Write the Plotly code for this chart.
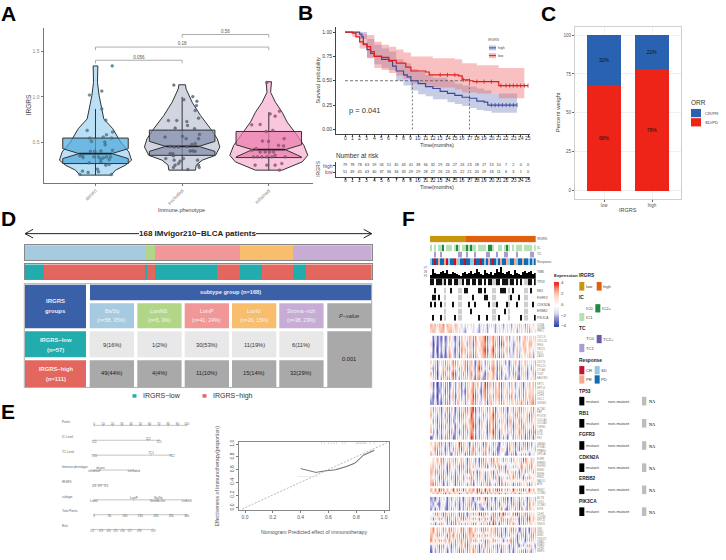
import plotly.graph_objects as go

W, H = 726, 560
SANS = "Liberation Sans"
NARROW = "Liberation Sans"

# ---------- A: violin / box data ----------
PHENO = ["desert", "excluded", "inflamed"]
V_Y = [
    [1.342, 1.269, 1.159, 1.013, .903, .756, .647, .5, .39, .299, .244, .189, .134],
    [1.134, 1.086, .94, .793, .647, .537, .445, .353, .299, .244, .189],
    [1.167, 1.05, .94, .83, .72, .573, .463, .353, .28, .189],
]
V_HW = [
    [.027, .023, .023, .042, .062, .096, .2, .289, .385, .416, .347, .231, .181],
    [.038, .046, .116, .212, .328, .405, .435, .385, .231, .162, .154],
    [.031, .021, .077, .154, .212, .328, .405, .45, .385, .154],
]
Q1 = [.262, .353, .328]
MED = [.372, .452, .416]
Q3 = [.544, .632, .617]
N_LO = [.317, .397, .335]
N_HI = [.427, .507, .47]
W_LO = [.134, .189, .189]
W_HI = [.866, 1.0, .83]
V_FILL = ["#BBDFF4", "#D0D5E0", "#F9C6DE"]
B_FILL = ["rgba(80,170,222,.72)", "rgba(130,140,170,.72)", "rgba(236,125,175,.72)"]
P_COL = ["#3F86AE", "#5D6788", "#B4517F"]
PX = [
    [.193, -.069, .073, .073, .119, -.096, .197, .127, .089, -.066, -.046, .185, .108, .112, -.058, -.008, .062, .197,
     -.181, -.15, -.143, .035, .058, .089, .127, .173, .158, .062, .119, .158, -.073, .023, .035, -.15, -.085, -.181, .185, -.019],
    [-.096, .123, .019, .17, .166, .15, .189, -.158, -.062, .054, .062, -.081, .143, -.197, .004, .046, .2, .189, .15, .112,
     .054, -.139, -.092, -.042, -.139, -.108, -.1, -.189, -.092, -.023, -.042, -.081, -.1, .177, .189, .197, .066, .092, .123, .15, .015],
    [-.023, .015, .123, .073, -.197, -.1, -.031, .046, -.073, -.004, .177, .17, .112, -.197, -.146, -.1, -.042, .008, .054,
     -.177, -.131, -.081, -.023, .035, .073, .189, -.158, -.023, .073, .15, .123],
]
PY = [
    [1.342, 1.02, 1.064, .866, .742, .628, .61, .58, .555, .544, .507, .544, .5, .47, .397, .397, .401, .408,
     .346, .353, .328, .335, .31, .324, .335, .335, .306, .28, .244, .251, .269, .2, .17, .178, .163, .141, .141, .335],
    [1.13, 1.002, .969, .951, .903, .848, .764, .738, .738, .727, .683, .654, .647, .555, .562, .537, .584, .537, .482, .471,
     .452, .452, .445, .445, .372, .372, .346, .317, .299, .288, .262, .244, .218, .299, .244, .218, .196, .401, .401, .397, .317],
    [1.159, .811, .841, .786, .69, .694, .617, .628, .511, .507, .537, .456, .463, .408, .427, .39, .39, .39, .39,
     .335, .335, .335, .335, .335, .353, .335, .244, .244, .244, .262, .189],
]
BRACKETS = [(0, 1, 1.405, "0.056"), (0, 2, 1.551, "0.18"), (1, 2, 1.69, "0.56")]

# ---------- B: survival ----------
HIGH_T = [0, 2, 2.3, 2.5, 3, 3.5, 4, 5, 6, 6.5, 7, 8, 8.5, 9, 10, 11, 12, 13, 14, 15, 16, 17, 18, 19, 19.5, 23.5]
HIGH_S = [1, .98, .95, .88, .82, .78, .75, .72, .70, .65, .60, .56, .54, .50, .47, .44, .42, .39, .37, .35, .33, .32, .29, .28, .25, .25]
LOW_T = [0, 1, 1.5, 2, 2.5, 3, 3.5, 4, 5, 6, 7, 8.3, 9, 11, 11.5, 15.5, 16, 17, 17.5, 21, 25]
LOW_S = [1, .99, .95, .90, .87, .85, .80, .75, .74, .71, .68, .64, .60, .59, .56, .55, .51, .50, .49, .45, .45]
BAND_HT = [0, 2, 3, 4, 5, 6, 7, 8, 9, 10, 11, 12, 14, 15, 16, 17, 18, 19, 20, 23.5]
BAND_HU = [1, 1, .93, .87, .83, .80, .72, .68, .62, .59, .56, .53, .50, .47, .45, .44, .42, .40, .37, .37]
BAND_HL = [1, .93, .74, .67, .63, .61, .50, .45, .40, .36, .34, .31, .28, .26, .24, .22, .20, .19, .17, .17]
BAND_LT = [0, 1, 2, 3, 4, 5, 6, 7, 8, 9, 11, 12, 15, 16, 18, 21, 24.5]
BAND_LU = [1, 1, .98, .97, .90, .87, .85, .82, .79, .75, .75, .73, .72, .68, .66, .63, .63]
BAND_LL = [1, .95, .83, .73, .63, .61, .58, .55, .52, .47, .45, .43, .41, .38, .37, .32, .31]
CENS_HT = [20, 20.5, 21, 21.5, 22, 22.5, 23, 23.5]
CENS_HS = [.25] * 8
CENS_LT = [13, 14, 15, 16.2, 17, 18, 19, 20, 21.3, 22, 22.5, 23, 23.5, 24, 24.5, 25]
CENS_LS = [.56, .56, .56, .51, .50, .49, .49, .49, .45, .45, .45, .45, .45, .45, .45, .45]
MED_T = [9.2, 17]
RISK_HIGH = [79, 78, 78, 63, 59, 56, 51, 45, 43, 41, 38, 34, 32, 29, 26, 27, 26, 23, 18, 17, 13, 10, 7, 2, 0, 0]
RISK_LOW = [51, 49, 45, 43, 40, 37, 36, 34, 33, 29, 29, 28, 27, 26, 23, 25, 22, 21, 20, 19, 18, 11, 6, 3, 1, 0]

# ---------- C: stacked percent ----------
C_GROUPS = ["low", "high"]
C_SD = [68, 78]
C_CR = [32, 22]

# ---------- D: subtype table ----------
SUBTYPES = ["Ba/Sq", "LumNS", "LumP", "LumU", "Stroma\u2212rich"]
SUB_N = ["(n=58, 35%)", "(n=5, 3%)", "(n=41, 24%)", "(n=26, 15%)", "(n=38, 23%)"]
SUB_COUNT = [58, 5, 41, 26, 38]
SUB_COL = ["#A6CBE0", "#B2D687", "#F19797", "#F8BD6D", "#C7ACD6"]
LOW_CELLS = ["9(16%)", "1(2%)", "30(53%)", "11(19%)", "6(11%)"]
HIGH_CELLS = ["49(44%)", "4(4%)", "11(10%)", "15(14%)", "32(29%)"]
LOW_COUNT = [9, 1, 30, 11, 6]
HIGH_COUNT = [49, 4, 11, 15, 32]
TEAL, CORAL = "#22ACAE", "#E3675F"

# ---------- E: nomogram ----------
NOMO_NAMES = ["Points", "IC Level", "TC Level", "Immune.phenotype", "IRGRS", "subtype", "Total Points", "Risk"]
NOMO_POS = [
    [0, 10, 20, 30, 40, 50, 60, 70, 80, 90, 100],
    [0, 58.6, 70.5], [0, 61.5, 84], [0, 7, 43], [0, 6.5, 13],
    [0, 43, 69.5, 68.5, 100],
    [0, 16.7, 33.3, 50, 66.7, 83.3, 100],
    [-1.8, 7.6, 15.8, 23.4, 30.9, 38.8, 48.9, 64],
]
NOMO_LAB = [
    ["0", "10", "20", "30", "40", "50", "60", "70", "80", "90", "100"],
    ["IC0", "IC2", "IC1"], ["TC0", "TC1", "TC2"], ["inflamed", "desert", "excluded"], ["0.1", "0.7", "1.3"],
    ["LumU", "LumP", "Ba/Sq", "Stroma-rich", "LumNS"],
    ["0", "50", "100", "150", "200", "250", "300"],
    ["0.1", "0.3", "0.4", "0.5", "0.6", "0.7", "0.8", "0.9"],
]
NOMO_SIDE = [
    "t" * 11, "btb", "btb", "btb", "bbb", "bttbb", "b" * 7, "b" * 8,
]
CAL_X = [.40, .45, .51, .58, .65, .72, .79, .85, .93]
CAL_Y = [.615, .585, .555, .58, .595, .64, .70, .82, .90]
CAL2_X = [.65, .75, .80, .85, .90, .93]
CAL2_Y = [.60, .66, .71, .83, .88, .90]
RUG_X = [.55, .57, .6, .62, .64, .66, .7, .72, .8, .81, .82, .83, .84, .85, .86, .87, .9, .93]

# ---------- F: oncoprint-style tracks and expression blocks ----------
IRGRS_TRACK = "0000000000" "00000000" "11" "1111111111" "1111111111" "1111111111" "111"
IC_TRACK = "1010112011" "1012101121" "2110111102" "2100110121" "0101110111" "101"
TC_TRACK = "0010010000" "0000110010" "0010000011" "0001000110" "0001000000" "110"
RESP_TRACK = "2303133102" "3301233033" "2203303231" "3032313312" "3312331332" "323"
TMB = [14, 35, 22, 17, 19, 24, 28, 21, 30, 19, 17, 26, 20, 16, 13, 10, 22, 26, 16, 20, 27, 19, 22, 36, 24, 17, 15,
       31, 22, 18, 25, 14, 20, 36, 24, 43, 20, 16, 23, 27, 18, 15, 30, 22, 17, 13, 23, 27, 21, 25, 28, 17, 20]
GENE_NAMES = ["RB1", "FGFR3", "CDKN2A", "ERBB2", "PIK3CA"]
TP53_TRACK = "1101112101" "1011221011" "0110110101" "1221101112" "1101010221" "101"
GENE_TRACKS = [
    "0010000200" "1000220110" "0000110100" "0220011102" "0100000220" "100",
    "0110100200" "0000220000" "0100000110" "0220000002" "1000100220" "000",
    "1010010200" "0100220001" "0010000001" "0221000012" "0001000220" "010",
    "0000000200" "0000220000" "1000000000" "0220000102" "0000000220" "000",
    "0100010200" "0010220000" "0000100010" "0220100002" "0000010220" "001",
]
BLOCKS = [
    ["6563657465" "5465434354" "5344253425" "3524352435" "2453635263" "454",
     "5654566456" "6355343244" "4343243524" "4425343534" "3542534362" "543"],
    ["4151314136" "4315264536" "5274556815" "5736173562" "4346245635" "536",
     "5041324235" "3425165426" "5165466725" "4726182453" "5235346546" "645",
     "4140425146" "4316275635" "5264557814" "6835263562" "4246335645" "435",
     "3151313137" "5325164526" "6173456725" "5726172453" "3346254536" "524"],
    ["5361536263" "5726453725" "6415734263" "5642635241" "5364254635" "352",
     "3271446372" "4635264716" "5326824352" "6751724532" "6253163524" "263",
     "6260537253" "6815362625" "7425643165" "4732615342" "4273263615" "461",
     "4361426372" "5724263635" "6316732264" "5641724233" "5362153524" "352"],
    ["5140326271" "3524615263" "5736425816" "5264716352" "6425361536" "462",
     "4241235172" "4625523164" "6725316725" "4365625463" "5534262645" "553",
     "3140426261" "5614624265" "5816425726" "5265715362" "7425252646" "562",
     "2251315272" "4526535254" "6725334615" "6354626453" "5536373625" "672"],
    ["5263615372" "6415263725" "7815263526" "4715362514" "5263726354" "625",
     "6352524261" "5326172634" "8624352635" "5826453625" "4372635461" "736",
     "4261625371" "6235263546" "7725163426" "5725263516" "6254725362" "645",
     "5352716252" "5416352735" "6815264517" "4716354625" "5163627354" "526",
     "6241525361" "7325162625" "7624253416" "5825164533" "6254736261" "728",
     "1352615272" "5126352635" "8715263525" "3726152514" "4263625172" "516"],
    ["5463725251" "6354826351" "4626351753" "5263143526" "3615252716" "243",
     "4572634162" "5263716462" "5735263642" "6351255417" "4526173625" "352",
     "6361725253" "1462635171" "6625352743" "5172344215" "2713526251" "434"],
    ["4546472536" "3625463516" "3524172645" "2746352635" "2645361754" "634",
     "5635263417" "4536172526" "4635263714" "3625726143" "5263475362" "745",
     "6527362516" "3425263617" "5241735264" "6152635274" "3625164263" "526",
     "5435172635" "2617352462" "7352645163" "5274163526" "4736251627" "354",
     "6726351425" "4516263525" "6143526372" "3526175263" "5162735461" "643"],
    ["6474827464" "3847261646" "5748164837" "4628174625" "4836271648" "364",
     "4637461847" "5463826474" "6437482615" "6473825164" "6373826364" "546"],
    ["2315253415" "2536241536" "3152743825" "2415362714" "1635263516" "352",
     "3252145316" "3425152637" "2415236416" "3526153625" "2736152427" "463",
     "2416254215" "2635142526" "3716321625" "1625374216" "3526175326" "534"],
    ["4527361736" "2635172415" "5263817264" "3726158263" "4718263726" "354",
     "5163724617" "3526471736" "3725164725" "1736472625" "6263172518" "463",
     "3615273425" "1724625263" "6174526371" "5824163526" "4735162635" "545"],
    ["5746352647" "2635472537" "6463527264" "6372526153" "7264136241" "637",
     "6537263516" "5746261736" "5736264725" "5362715262" "5351627153" "726",
     "7463725647" "3526373625" "6273526173" "4726351526" "7261534162" "635",
     "2536172435" "1625364716" "3625174263" "5261726351" "6253162527" "341",
     "1425263514" "2536172526" "4736152462" "6352416352" "4153627163" "253"],
]
BLOCK_PX = [(322.7, 332.3), (335, 357.7), (359.7, 380), (381.7, 405), (406.7, 440), (442, 456),
            (457.7, 486.7), (488.7, 495), (497.3, 511.3), (513, 526), (528, 554)]
BLOCK_GENES = [
    ["CD8A", "GZMA", "PRF1"],
    ["CXCL9", "CXCL10", "IFNG", "TBX21", "IDO1", "LAG3"],
    ["CD274", "PDCD1", "CTLA4", "TIGIT", "HAVCR2"],
    ["KRT5", "KRT14", "CD44", "CDH3", "DSC2", "GSDMC"],
    ["ACTA2", "FAP", "POSTN", "COL1A1", "COL3A1", "TGFB1", "LUM", "DCN", "FN1"],
    ["GATA3", "FOXA1", "PPARG", "UPK1A"],
    ["EGFR", "ERBB3", "FGFR3", "MSH2", "MSH6", "PMS2", "RAD51", "ATM"],
    ["MKI67", "CCNB1"],
    ["ACTB", "CDK1", "CCNE1", "E2F3"],
    ["CDH1", "CLDN4", "KRT20", "SNX31"],
    ["VIM", "ZEB1", "ZEB2", "TWIST1", "SNAI1", "SNAI2", "CDH2", "MMP2"],
]

EXPR_SCALE = [[0, "#2F4FB0"], [.25, "#9A98D2"], [.375, "#DBD9EF"], [.5, "#FFFFFF"], [.625, "#FBDACD"],
              [.75, "#F8B7A2"], [.875, "#F38A72"], [1, "#E8352A"]]

fig = go.Figure()
annos, shapes = [], []
n_ax = [0]


def ax(l, r, t, b, xr, yr, xo=None, yo=None):
    n_ax[0] += 1
    i = n_ax[0]
    sx = "" if i == 1 else str(i)
    xd = dict(domain=[l / W, r / W], range=xr, anchor="y" + sx, showgrid=False, zeroline=False, visible=False, layer="below traces")
    yd = dict(domain=[1 - b / H, 1 - t / H], range=yr, anchor="x" + sx, showgrid=False, zeroline=False, visible=False, layer="below traces")
    xd.update(xo or {})
    yd.update(yo or {})
    fig.update_layout({"xaxis" + sx: xd, "yaxis" + sx: yd})
    return "x" + sx, "y" + sx


def T(x, y, s, size=5, color="#333", anchor="left", bold=False, angle=0, family=SANS, bg=None, italic=False):
    if bold:
        s = "<b>" + s + "</b>"
    if italic:
        s = "<i>" + s + "</i>"
    a = dict(x=x / W, y=1 - y / H, xref="paper", yref="paper", text=s, showarrow=False, xanchor=anchor, yanchor="middle",
             font=dict(size=size, color=color, family=family), textangle=angle, borderpad=0, borderwidth=0)
    if bg:
        a["bgcolor"] = bg
    annos.append(a)


def R(x0, y0, x1, y1, fill, line=None, lw=0):
    shapes.append(dict(type="rect", xref="paper", yref="paper", x0=x0 / W, x1=x1 / W, y0=1 - y0 / H, y1=1 - y1 / H,
                       fillcolor=fill, line=dict(color=line or fill, width=lw)))


def L(x0, y0, x1, y1, color="#333", lw=1):
    shapes.append(dict(type="line", xref="paper", yref="paper", x0=x0 / W, x1=x1 / W, y0=1 - y0 / H, y1=1 - y1 / H,
                       line=dict(color=color, width=lw)))


def S(xa, ya, x, y, **k):
    k.setdefault("hoverinfo", "skip")
    k.setdefault("showlegend", False)
    fig.add_trace(go.Scatter(x=x, y=y, xaxis=xa, yaxis=ya, **k))


# ----- Panel letters -----
for s, x, y in [("A", 1, 11), ("B", 298, 10), ("C", 541, 11), ("D", 1, 217), ("E", 1, 411), ("F", 402, 217)]:
    T(x, y, s, size=21, color="#000", bold=True)

# ----- A -----
gray_ax = dict(visible=True, showline=True, linecolor="#777", linewidth=1, ticks="outside", ticklen=2, tickcolor="#777",
               tickfont=dict(size=5, color="#888", family=SANS))
xa, ya = ax(43.5, 313, 25, 181, [-.6, 2.51], [.05, 1.764],
            dict(gray_ax, tickvals=[0, 1, 2], ticktext=PHENO, tickangle=-45),
            dict(gray_ax, tickvals=[.5, 1, 1.5], ticktext=["0.5", "1.0", "1.5"]))
for i in range(3):
    vx = [i - h for h in V_HW[i]] + [i + h for h in V_HW[i][::-1]]
    vy = V_Y[i] + V_Y[i][::-1]
    S(xa, ya, vx + vx[:1], vy + vy[:1], mode="lines", fill="toself", fillcolor=V_FILL[i], line=dict(color="#333", width=1))
for i in range(3):
    S(xa, ya, [i, i], [W_LO[i], W_HI[i]], mode="lines", line=dict(color="#333", width=1))
    hw, nw = .378, .19
    bx = [i - hw, i + hw, i + hw, i + nw, i + hw, i + hw, i - hw, i - hw, i - nw, i - hw, i - hw]
    by = [Q1[i], Q1[i], N_LO[i], MED[i], N_HI[i], Q3[i], Q3[i], N_HI[i], MED[i], N_LO[i], Q1[i]]
    S(xa, ya, bx, by, mode="lines", fill="toself", fillcolor=B_FILL[i], line=dict(color="#333", width=1))
    S(xa, ya, [i - nw, i + nw], [MED[i], MED[i]], mode="lines", line=dict(color="#222", width=1.6))
    S(xa, ya, [i + v for v in PX[i]], PY[i], mode="markers",
      marker=dict(size=2.8, color=P_COL[i], opacity=.85, line=dict(color="#444", width=.4)))
for a, b, y, s in BRACKETS:
    S(xa, ya, [a, a, b, b], [y - .035, y, y, y - .035], mode="lines", line=dict(color="#999", width=.8))
    S(xa, ya, [(a + b) / 2], [y + .03], mode="text", text=[s], textfont=dict(size=4.5, color="#555", family=SANS))
T(28, 103, "IRGRS", 6.5, "#444", "center", angle=-90)
T(182, 208, "Immune.phenotype", 5.5, "#444", "center")

# ----- B -----
dark_ax = dict(visible=True, showline=True, linecolor="#444", linewidth=1, ticks="outside", ticklen=2, tickcolor="#444",
               tickfont=dict(size=5, color="#333", family=SANS))
MONTHS = list(range(26))
xb, yb = ax(336, 530, 24, 131.7, [-1.23, 25.27], [-.045, 1.054],
            dict(dark_ax, tickvals=MONTHS, showticklabels=False),
            dict(dark_ax, tickvals=[0, .25, .5, .75, 1], ticktext=["0.00", "0.25", "0.50", "0.75", "1.00"]))
S(xb, yb, BAND_HT, BAND_HL, mode="lines", line=dict(width=0, shape="hv"))
S(xb, yb, BAND_HT, BAND_HU, mode="lines", line=dict(width=0, shape="hv"), fill="tonexty", fillcolor="rgba(125,135,195,.42)")
S(xb, yb, BAND_LT, BAND_LL, mode="lines", line=dict(width=0, shape="hv"))
S(xb, yb, BAND_LT, BAND_LU, mode="lines", line=dict(width=0, shape="hv"), fill="tonexty", fillcolor="rgba(238,105,105,.42)")
S(xb, yb, [0, MED_T[1]], [.5, .5], mode="lines", line=dict(color="#555", width=.8, dash="3px,2px"))
for t in MED_T:
    S(xb, yb, [t, t], [0, .5], mode="lines", line=dict(color="#555", width=.8, dash="2px,2px"))
S(xb, yb, HIGH_T, HIGH_S, mode="lines", line=dict(color="#3B4A9C", width=1.2, shape="hv"))
S(xb, yb, LOW_T, LOW_S, mode="lines", line=dict(color="#E21B1B", width=1.2, shape="hv"))
S(xb, yb, CENS_HT, CENS_HS, mode="markers", marker=dict(symbol="line-ns", size=3, line=dict(color="#3B4A9C", width=.8)))
S(xb, yb, CENS_LT, CENS_LS, mode="markers", marker=dict(symbol="line-ns", size=3, line=dict(color="#E21B1B", width=.8)))
for m in MONTHS:
    T(345 + 7.33 * m, 136, str(m), 5, "#333", "center")
    T(345 + 7.33 * m, 178.5, str(m), 5, "#333", "center")
T(349, 108, "p = 0.041", 7.5, "#333")
T(318, 78, "Survival probability", 5.5, "#444", "center", angle=-90)
T(437, 143, "Time(months)", 5.5, "#333", "center")
T(488, 37.5, "IRGRS", 3.5, "#555")
R(489, 42.7, 496, 47.7, "#C3C7E2"); L(489, 45.2, 496, 45.2, "#3B4A9C", 1)
R(489, 50.5, 496, 55.5, "#F4B8B8"); L(489, 53, 496, 53, "#E21B1B", 1)
T(498, 45.2, "high", 3.5, "#444"); T(498, 53, "low", 3.5, "#444")

xr, yr = ax(336, 530, 160, 175.7, [-1.23, 25.27], [-.71, 1.53],
            dict(dark_ax, tickvals=MONTHS, showticklabels=False),
            dict(dark_ax, tickvals=[0, 1], ticktext=["", ""]))
S(xr, yr, MONTHS, [1] * 26, mode="text", text=[str(v) for v in RISK_HIGH], textfont=dict(size=3.8, color="#333", family=SANS))
S(xr, yr, MONTHS, [0] * 26, mode="text", text=[str(v) for v in RISK_LOW], textfont=dict(size=3.8, color="#333", family=SANS))
T(336, 154, "Number at risk", 6.5, "#333")
T(333, 163.7, "high", 5, "#3B4A9C", "right")
T(333, 170.7, "low", 5, "#E21B1B", "right")
T(318, 167, "IRGRS", 5, "#444", "center", angle=-90)
T(437, 185, "Time(months)", 5.5, "#333", "center")

# ----- C -----
c_ax = dict(visible=True, showline=True, mirror=True, linecolor="#CFCFCF", linewidth=1.4, ticks="outside", ticklen=2,
            tickcolor="#666", showgrid=True, gridcolor="#F0F0F0", gridwidth=.6, tickfont=dict(size=4.5, color="#555", family=SANS))
xc, yc = ax(575, 680.7, 24.3, 197, [-.61, 1.6], [-5.1, 105.1],
            dict(c_ax, tickvals=[0, 1], ticktext=C_GROUPS, tickangle=0),
            dict(c_ax, tickvals=[0, 25, 50, 75, 100], ticktext=["0", "25", "50", "75", "100"]))
fig.add_trace(go.Bar(x=[0, 1], y=C_SD, xaxis=xc, yaxis=yc, width=.7, marker=dict(color="#EE2418", line=dict(width=0)), showlegend=False,
                     text=[f"{v}%" for v in C_SD], textposition="inside", insidetextanchor="middle", hoverinfo="skip",
                     textfont=dict(size=5, color="#111", family=SANS), textangle=0))
fig.add_trace(go.Bar(x=[0, 1], y=C_CR, xaxis=xc, yaxis=yc, width=.7, marker=dict(color="#2A62B2", line=dict(width=0)), showlegend=False,
                     text=[f"{v}%" for v in C_CR], textposition="inside", insidetextanchor="middle", hoverinfo="skip",
                     textfont=dict(size=5, color="#111", family=SANS), textangle=0))
T(558, 110, "Percent weight", 6, "#444", "center", angle=-90)
T(628, 208, "IRGRS", 5.5, "#444", "center")
T(691, 100, "ORR", 6.5, "#333")
R(691, 106.7, 701, 115, "#2A62B2")
R(691, 116, 701, 124.3, "#EE2418")
T(705, 111, "CR/PR", 4.3, "#444")
T(705, 120, "SD/PD", 4.3, "#444")

# ----- D -----
d_ax = dict(visible=True, showline=True, mirror=True, linecolor="#888", linewidth=1, ticks="", showticklabels=False)
xd1, yd1 = ax(25, 371.7, 244, 259.3, [0, 168], [-.5, .5], d_ax, d_ax)
for n, c in zip(SUB_COUNT, SUB_COL):
    fig.add_trace(go.Bar(x=[n], y=[0], xaxis=xd1, yaxis=yd1, orientation="h", width=1, marker=dict(color=c, line=dict(width=0)),
                         showlegend=False, hoverinfo="skip"))
xd2, yd2 = ax(25, 371.7, 263.3, 278.3, [0, 168], [-.5, .5], d_ax, d_ax)
for lo, hi in zip(LOW_COUNT, HIGH_COUNT):
    for n, c in ((lo, TEAL), (hi, CORAL)):
        fig.add_trace(go.Bar(x=[n], y=[0], xaxis=xd2, yaxis=yd2, orientation="h", width=1, marker=dict(color=c, line=dict(width=0)),
                             showlegend=False, hoverinfo="skip"))
L(25, 232.3, 371.7, 232.3, "#222", 1)
L(25, 232.3, 33, 228, "#222", 1); L(25, 232.3, 33, 236.6, "#222", 1)
L(371.7, 232.3, 363.7, 228, "#222", 1); L(371.7, 232.3, 363.7, 236.6, "#222", 1)
T(198, 232, "168 IMvigor210\u2212BLCA patients", 8, "#222", "center", bold=True, bg="#FFFFFF")

TBLUE = "#3A60A8"
R(24.3, 282.7, 371.7, 387.3, "rgba(0,0,0,0)", "#999", .8)
R(25, 283.7, 86, 327.7, TBLUE)
T(55.5, 300.5, "IRGRS", 6, "#E8EEF8", "center", bold=True)
T(55.5, 310, "groups", 6, "#E8EEF8", "center", bold=True)
R(90, 283.7, 371.2, 299.3, TBLUE)
T(230.5, 291, "subtype group (n=168)", 5.7, "#E8EEF8", "center", bold=True)
COL_L = [89.7, 137.3, 184.7, 232, 279.3, 327.3]
COL_W = 44.3
for i in range(5):
    R(COL_L[i], 302.3, COL_L[i] + COL_W, 327.7, SUB_COL[i])
    T(COL_L[i] + COL_W / 2, 310.5, SUBTYPES[i], 5.2, "#F3F6F8", "center")
    T(COL_L[i] + COL_W / 2, 319.5, SUB_N[i], 5.2, "#F3F6F8", "center")
    R(COL_L[i], 330.7, COL_L[i] + COL_W, 356.7, "#E8E8E8")
    T(COL_L[i] + COL_W / 2, 344, LOW_CELLS[i], 5.7, "#333", "center")
    R(COL_L[i], 359.7, COL_L[i] + COL_W, 386.7, "#A9A9A9")
    T(COL_L[i] + COL_W / 2, 373, HIGH_CELLS[i], 5.7, "#222", "center")
R(COL_L[5], 302.3, COL_L[5] + COL_W, 327.7, "#A9A9A9")
T(COL_L[5] + COL_W / 2, 315, "P\u2212value", 5.5, "#333", "center", italic=True)
R(COL_L[5], 330.7, COL_L[5] + COL_W, 386.7, "#A9A9A9")
T(COL_L[5] + COL_W / 2, 358.5, "0.001", 5.7, "#222", "center")
R(25, 330.7, 86, 356.7, TEAL)
T(55.5, 339.5, "IRGRS\u2212low", 5.8, "#E8F6F6", "center", bold=True)
T(55.5, 349, "(n=57)", 5.8, "#E8F6F6", "center", bold=True)
R(25, 359.7, 86, 386.7, CORAL)
T(55.5, 369, "IRGRS\u2212high", 5.8, "#FBEDEC", "center", bold=True)
T(55.5, 378.5, "(n=111)", 5.8, "#FBEDEC", "center", bold=True)
R(132.5, 394, 136.5, 397.5, TEAL)
T(142.5, 395.5, "IRGRS\u2212low", 7, "#333")
R(202.5, 394, 206.5, 397.5, CORAL)
T(212.5, 395.5, "IRGRS\u2212high", 7, "#333")

# ----- E nomogram -----
ppp = .9267
xn, yn = ax(60, 195, 420, 540, [(60 - 94) / ppp, (195 - 94) / ppp], [7.64, -.36])
NF = dict(size=3, color="#666", family=SANS)
for r in range(8):
    S(xn, yn, [min(NOMO_POS[r]), max(NOMO_POS[r])], [r, r], mode="lines", line=dict(color="#888", width=.5))
    S(xn, yn, NOMO_POS[r], [r] * len(NOMO_POS[r]), mode="markers", marker=dict(symbol="line-ns", size=1.5, line=dict(color="#888", width=.4)))
    S(xn, yn, [-34.5], [r - .2], mode="text", text=[NOMO_NAMES[r]], textposition="middle right", textfont=NF)
    for p, lab, side in zip(NOMO_POS[r], NOMO_LAB[r], NOMO_SIDE[r]):
        S(xn, yn, [p], [r], mode="text", text=[lab], textfont=NF,
          textposition="top center" if side == "t" else "bottom center")

# ----- E calibration -----
cal = dict(visible=True, showline=True, mirror=True, linecolor="#888", linewidth=.8, ticks="outside", ticklen=2.5, tickcolor="#777",
           tickfont=dict(size=5, color="#555", family=SANS), tickvals=[0, .2, .4, .6, .8, 1],
           ticktext=["0.0", "0.2", "0.4", "0.6", "0.8", "1.0"])
xe, ye = ax(239.3, 389.3, 442.3, 510.3, [-.041, 1.038], [-.03, 1.03], dict(cal, tickangle=0), dict(cal, tickangle=-90))
S(xe, ye, [-.02, 1.04], [-.02, 1.04], mode="lines", line=dict(color="#999", width=.7, dash="2px,1.5px"))
S(xe, ye, [.38, .52], [.49, .49], mode="lines", line=dict(color="#DDD", width=.6))
S(xe, ye, CAL2_X, CAL2_Y, mode="lines", line=dict(color="#AAA", width=.7))
S(xe, ye, CAL_X, CAL_Y, mode="lines", line=dict(color="#666", width=.9))
S(xe, ye, RUG_X, [1.015] * len(RUG_X), mode="markers", marker=dict(symbol="line-ns", size=1.5, line=dict(color="#999", width=.4)))
T(314, 532.7, "Nomogram Predicted effect of immunotherapy", 5.2, "#555", "center")
T(217, 477, "Effectiveness of immunotherapy(proportion)", 5.2, "#555", "center", angle=-90)


# ----- F tracks -----
def digits(s):
    return [int(c) for c in s]


COLS = list(range(53))


def track(t, b, s, colors):
    xt, yt = ax(430, 535.7, t, b, [-.5, 52.5], [-.5, .5])
    n = len(colors) - 1
    scale = []
    for i, c in enumerate(colors):
        scale += [[i / (n + 1), c], [(i + 1) / (n + 1), c]]
    fig.add_trace(go.Heatmap(z=[digits(s)], x=COLS, y=[0], xaxis=xt, yaxis=yt, colorscale=scale, zmin=-.5, zmax=n + .5,
                             showscale=False, hoverinfo="skip"))


track(234.3, 241, IRGRS_TRACK, ["#C8960C", "#E0600F"])
track(243.3, 250, IC_TRACK, ["#FFFFFF", "#B6E2B3", "#1E8C3A"])
track(250.3, 256.7, TC_TRACK, ["#FFFFFF", "#A89CD0", "#6A5AA8"])
track(257, 264.3, RESP_TRACK, ["#C4122A", "#F5A98A", "#94C8E4", "#0F6CB0"])
xt, yt = ax(430, 535.7, 265, 277.7, [-.5, 52.5], [0, 46])
fig.add_trace(go.Bar(x=COLS, y=TMB, xaxis=xt, yaxis=yt, width=.55, marker=dict(color="#000", line=dict(width=0)),
                     showlegend=False, hoverinfo="skip"))
MUT = ["#FFFFFF", "#111111", "#CFCFCF"]
track(277.7, 284.3, TP53_TRACK, MUT)
g_t = [286.7, 293.7, 300.7, 307.7, 314]
for tt, s in zip(g_t, GENE_TRACKS):
    track(tt, tt + 6, s, MUT)
for i, s in enumerate(["25", "50", "75"]):
    T(426, 274 - i * 4, s, 2.8, "#555", "center", angle=-90)

for (tt, bb), rows, genes in zip(BLOCK_PX, BLOCKS, BLOCK_GENES):
    xt, yt = ax(430, 535.7, tt, bb, [-.5, 52.5], [len(rows) - .5, -.5])
    fig.add_trace(go.Heatmap(z=[digits(r) for r in rows], x=COLS, y=list(range(len(rows))), xaxis=xt, yaxis=yt, colorscale=EXPR_SCALE,
                             zmin=0, zmax=8, showscale=False, hoverinfo="skip", zsmooth="best"))
    step = (bb - tt) / len(genes)
    for j, g in enumerate(genes):
        T(536.8, tt + step * (j + .5), g, 2.6, "#888")

F_RIGHT = [("IRGRS", 237.7), ("IC", 246.7), ("TC", 253.3), ("Response", 260.7), ("TMB", 270.7), ("TP53", 281),
           ("RB1", 289.7), ("FGFR3", 296.7), ("CDKN2A", 303.7), ("ERBB2", 310.7), ("PIK3CA", 317.7)]
for s, y in F_RIGHT:
    T(537, y, s, 3.2, "#555", family=NARROW)

# colour bar
CB_LEVELS = [4, 3, 2, 1, .5, 0, -.5, -1, -2, -3, -4]
xt, yt = ax(554, 559.3, 281, 326.7, [-.5, .5], [len(CB_LEVELS) - .5, -.5])
fig.add_trace(go.Heatmap(z=[[v] for v in CB_LEVELS], x=[0], y=list(range(len(CB_LEVELS))), xaxis=xt, yaxis=yt, colorscale=EXPR_SCALE,
                         zmin=-4, zmax=4, showscale=False, hoverinfo="skip", zsmooth="best"))
T(554, 274.7, "Expression", 4.4, "#222", bold=True, family=NARROW)
for s, y in [("4", 281.7), ("2", 292.7), ("0", 303.3), ("\u22122", 314.3), ("\u22124", 325)]:
    T(561, y, s, 4.4, "#444", family=NARROW)


def zx(z):
    return 530 + z / 3


def zy(z):
    return 205 + z / 3


def title(x, y, s):
    T(x, y, s, 4.8, "#222", bold=True, family=NARROW)


def swatch(z0, z1, y0, y1, c, lab=None, tx=None):
    R(zx(z0), zy(y0), zx(z1), zy(y1), c)
    if lab:
        T(zx(tx), zy((y0 + y1) / 2), lab, 4.2, "#444", family=NARROW)


title(zx(148), zy(209), "IRGRS")
swatch(148, 163, 228, 254, "#C8960C", "low", 168)
swatch(200, 215, 228, 254, "#E0600F", "high", 218)
title(zx(148), zy(275), "IC")
T(zx(168), zy(307), "IC0", 4.2, "#444", family=NARROW)
swatch(196, 211, 295, 320, "#1E8C3A", "IC2+", 216)
swatch(148, 163, 322, 346, "#B6E2B3", "IC1", 168)
title(zx(148), zy(370), "TC")
T(zx(168), zy(400), "TC0", 4.2, "#444", family=NARROW)
swatch(200, 215, 388, 413, "#6A5AA8", "TC2+", 219)
swatch(148, 163, 415, 440, "#A89CD0", "TC1", 168)
title(zx(148), zy(464), "Response")
swatch(148, 163, 482, 507, "#C4122A", "CR", 168)
swatch(194, 209, 482, 507, "#94C8E4", "SD", 213)
swatch(148, 163, 510, 535, "#F5A98A", "PR", 168)
swatch(194, 209, 510, 535, "#0F6CB0", "PD", 213)

MUT_TITLES = ["TP53", "RB1", "FGFR3", "CDKN2A", "ERBB2", "PIK3CA"]
MUT_TY = [33, 99, 165, 232, 298, 365]
MUT_SY = [50, 117, 184, 251, 318, 384]
for name, ty, sy in zip(MUT_TITLES, MUT_TY, MUT_SY):
    x0 = 400 + 538 / 3
    title(x0, 380 + ty / 3, name)
    ym = 380 + (sy + 13) / 3
    R(x0, 380 + sy / 3, x0 + 5, 380 + (sy + 26) / 3, "#000")
    T(400 + 558 / 3, ym, "mutant", 4.2, "#444", family=NARROW)
    T(400 + 623 / 3, ym, "non-mutant", 4.2, "#444", family=NARROW)
    R(400 + 726 / 3, 380 + sy / 3, 400 + 739 / 3, 380 + (sy + 26) / 3, "#BDBDBD")
    T(400 + 747 / 3, ym + .7, "NA", 4.3, "#333", bold=True, family="Liberation Serif")

fig.update_layout(width=W, height=H, margin=dict(l=0, r=0, t=0, b=0), paper_bgcolor="white", plot_bgcolor="rgba(0,0,0,0)",
                  barmode="stack", showlegend=False, annotations=annos, shapes=shapes, font=dict(family=SANS))
fig.write_html("out.html", config=dict(displayModeBar=False),
               post_script="document.body.style.margin='0';document.documentElement.style.overflow='hidden';")
